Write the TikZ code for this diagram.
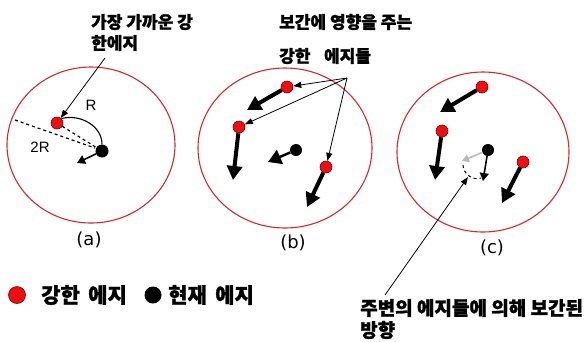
\documentclass[tikz,border=0pt]{standalone}
\usepackage{fontspec}
\newfontfamily\kr[FakeBold=1.2]{Noto Sans CJK KR}
\newfontfamily\lat{DejaVu Sans}
\newfontfamily\arl{Liberation Sans}
\usetikzlibrary{arrows.meta,shapes.geometric}
\definecolor{ringred}{HTML}{D42A2A}
\definecolor{dotred}{HTML}{EE1010}
\definecolor{dotedge}{HTML}{7A0000}
\definecolor{lightgray}{HTML}{BBBBBB}
\tikzset{
  ring/.style={draw=ringred, line width=1.1pt, ellipse, inner sep=0pt},
  strong/.style={circle, fill=dotred, draw=dotedge, line width=0.6pt, minimum size=12pt, inner sep=0pt},
  cur/.style={circle, fill=black, minimum size=12pt, inner sep=0pt},
  bigarrow/.style={line width=4pt, -{Triangle[length=14pt,width=15pt]}},
  midarrow/.style={line width=1.6pt, -{Triangle[length=8pt,width=9pt]}},
  pointer/.style={line width=0.8pt, -{Triangle[length=8pt,width=6pt]}},
  krtext/.style={anchor=west, inner sep=0pt, font=\kr\bfseries\fontsize{17}{19}\selectfont},
  krbig/.style={anchor=west, inner sep=0pt, font=\kr\bfseries\fontsize{19}{21}\selectfont},
  krlegend/.style={anchor=west, inner sep=0pt, font=\kr\bfseries\fontsize{21}{23}\selectfont},
  caption/.style={inner sep=0pt, font=\lat\fontsize{18}{20}\selectfont},
  rlabel/.style={inner sep=0pt, font=\arl\fontsize{15}{17}\selectfont},
}
\begin{document}
\begin{tikzpicture}[x=1pt,y=-1pt]
\useasboundingbox[fill=white] (0,0) rectangle (586,341);

% ---------- (a)
\node[ring, minimum width=168pt, minimum height=156pt] (ca) at (91,145) {};
\node[strong] (ra) at (57,123) {};
\node[cur, minimum size=13pt] (ba) at (102,151) {};
\coordinate (da1) at (15,120);
\coordinate (da2) at (95,148);
\draw[dashed, line width=1.2pt] (da1) -- (da2);
\draw[dashed, line width=1.2pt] (ra) -- (ba);
\draw[line width=1.1pt] (ra.north east) to[out=15,in=90] (ba.north);
\coordinate (ta) at (77,163);
\draw[midarrow] (ba) -- (ta);
\node[krtext] (t1a) at (91,22) {가장 가까운 강};
\node[krtext] (t2a) at (91,43) {한에지};
\coordinate (pa) at (105,58);
\draw[pointer] (pa) -- (ra);
\node[rlabel] (lR) at (91,105) {R};
\node[rlabel] (l2R) at (40,147) {2R};
\node[caption] (capa) at (89,240) {(a)};

% ---------- (b)
\node[ring, minimum width=174pt, minimum height=160pt] (cb) at (285,148) {};
\node[strong] (rb1) at (287,87) {};
\node[strong] (rb2) at (239,127) {};
\node[strong] (rb3) at (326,167) {};
\node[cur] (bb) at (296,150) {};
\coordinate (tb1) at (247,110);
\coordinate (tb2) at (233,180);
\coordinate (tb3) at (307,207);
\coordinate (tbb) at (268,162);
\draw[bigarrow] (rb1) -- (tb1);
\draw[bigarrow] (rb2) -- (tb2);
\draw[bigarrow] (rb3) -- (tb3);
\draw[line width=2.5pt, -{Triangle[length=13pt,width=15pt]}] (bb) -- (tbb);
\node[krtext] (t1b) at (279,22) {보간에 영향을 주는};
\node[krtext] (t2b) at (279,56) {강한\hspace{0.8em}에지들};
\coordinate (pb) at (347,78);
\draw[pointer] (pb) -- (rb1);
\draw[pointer] (pb) -- (rb2);
\draw[pointer] (pb) -- (rb3);
\node[caption] (capb) at (293,243) {(b)};

% ---------- (c)
\node[ring, minimum width=172pt, minimum height=160pt] (cc) at (483,152) {};
\node[strong] (rc1) at (482,87) {};
\node[strong] (rc2) at (442,131) {};
\node[strong] (rc3) at (523,162) {};
\node[cur] (bc) at (488,150) {};
\coordinate (tc1) at (440,112);
\coordinate (tc2) at (435,180);
\coordinate (tc3) at (502,203);
\draw[bigarrow] (rc1) -- (tc1);
\draw[bigarrow] (rc2) -- (tc2);
\draw[bigarrow] (rc3) -- (tc3);
\coordinate (gc) at (462,161);
\coordinate (kc) at (483,181);
\draw[line width=1.6pt, lightgray, -{Triangle[length=7pt,width=8pt]}] (bc) -- (gc);
\draw[midarrow] (bc) -- (kc);
\coordinate (ac1) at (463,165);
\coordinate (ac2) at (481,178);
\draw[dashed, line width=1pt] (ac1) to[out=-90,in=200] (ac2);
\coordinate (pc) at (385,295);
\coordinate (pct) at (468,177);
\draw[pointer] (pc) -- (pct);
\node[caption] (capc) at (492,248) {(c)};

% ---------- bottom texts
\node[krbig] (t1c) at (360,308) {주변의 에지들에 의해 보간된};
\node[krbig] (t2c) at (360,330) {방향};

% ---------- legend
\node[strong, minimum size=17pt] (lgr) at (17,295) {};
\node[krlegend] (lgrt) at (41,295) {강한\hspace{0.4em}에지};
\node[cur, minimum size=17pt] (lgb) at (153,295) {};
\node[krlegend] (lgbt) at (168,295) {현재\hspace{0.4em}에지};
\end{tikzpicture}
\end{document}
